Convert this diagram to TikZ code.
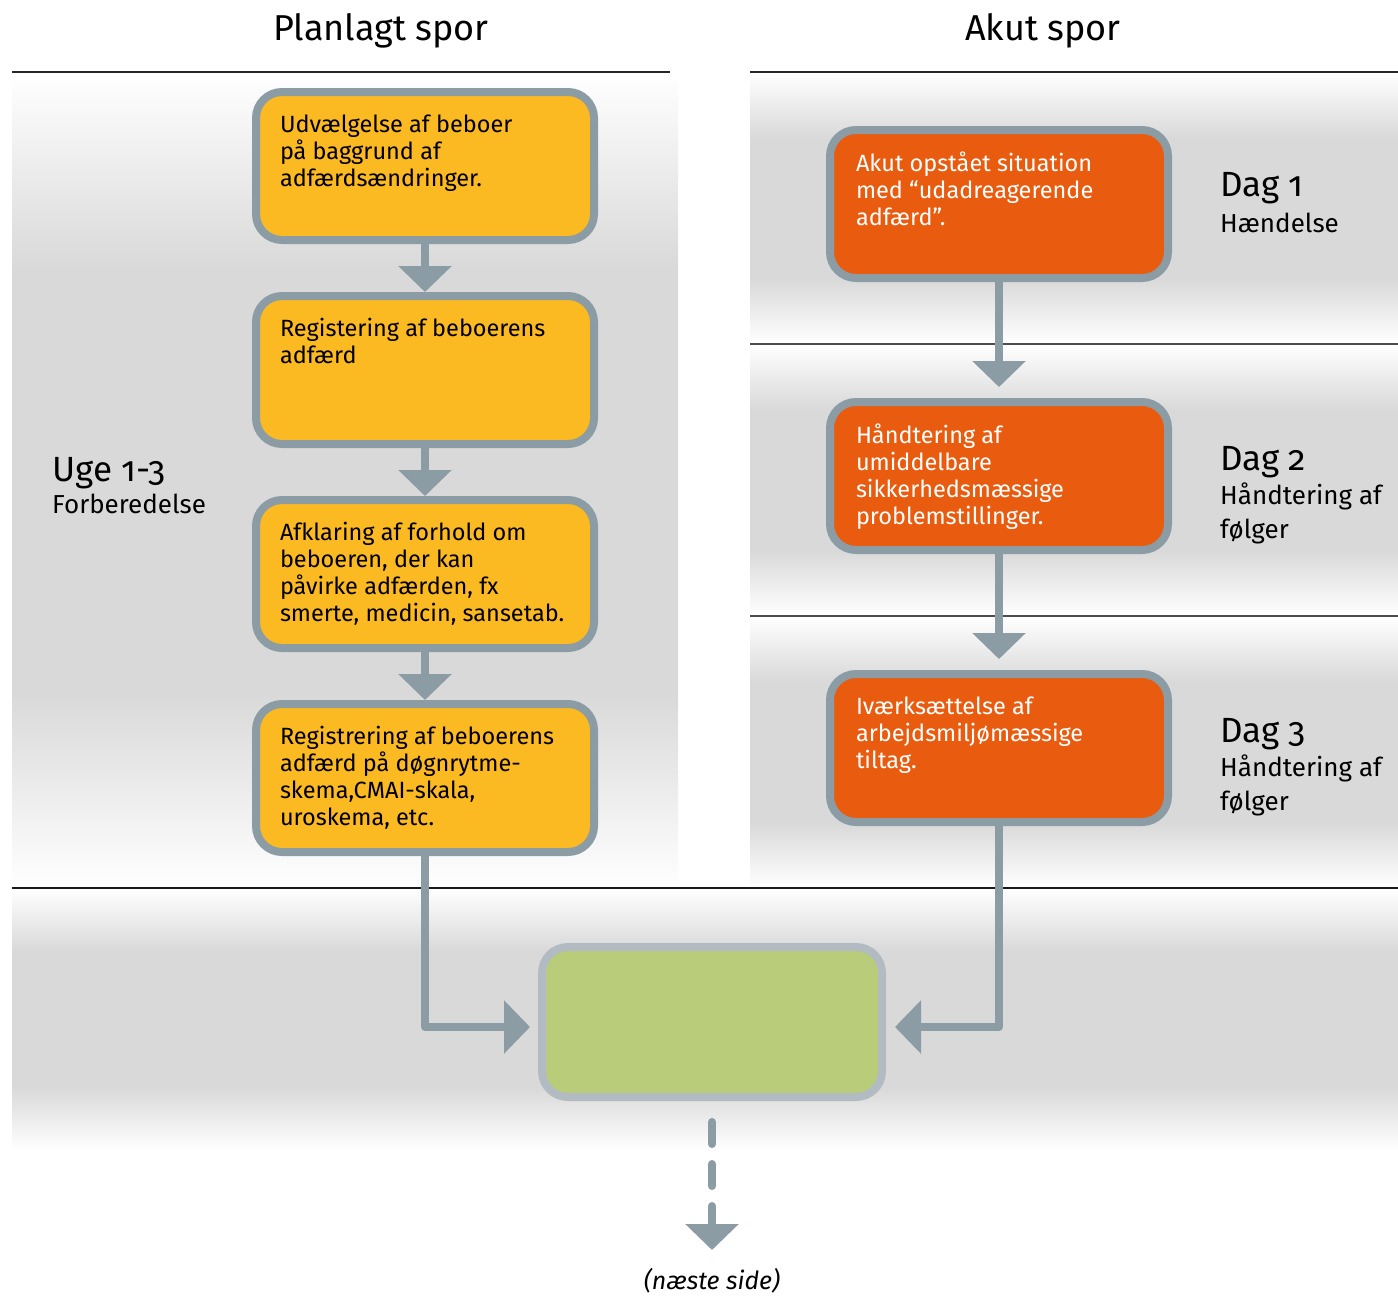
\documentclass[tikz,border=0pt]{standalone}
\usepackage{fontspec}
\setmainfont{Fira Sans}[Numbers=OldStyle]
\usetikzlibrary{arrows.meta}

\definecolor{boxyellow}{HTML}{FBB922}
\definecolor{boxorange}{HTML}{E95C0F}
\definecolor{boxgreen}{HTML}{B8CC7A}
\definecolor{edgegray}{HTML}{8C9CA4}
\definecolor{greenedge}{HTML}{B2BBC2}
\definecolor{bandgray}{HTML}{D9D9D9}

% soft band: white at the edges, grey in the middle (visible part is 25bp..75bp)
\pgfdeclareverticalshading{bandshade}{100bp}{color(0bp)=(white); color(25bp)=(white); color(37bp)=(bandgray); color(63bp)=(bandgray); color(75bp)=(white); color(100bp)=(white)}

% top-aligned text block of fixed size inside a flow box
\newcommand{\boxtext}[2][290pt]{\parbox[c][104pt][t]{#1}{\raggedright\rule{0pt}{18pt}#2}}

\tikzset{
  flowbox/.style={draw=edgegray, line width=8pt, rounded corners=26pt,
    minimum width=338pt, minimum height=148pt, inner xsep=24pt, inner ysep=22pt,
    anchor=north west, font=\fontsize{23.5}{27}\selectfont},
  planbox/.style={flowbox, fill=boxyellow, text=black},
  akutbox/.style={flowbox, fill=boxorange, text=white, inner xsep=26pt},
  flow/.style={draw=edgegray, line width=8pt, line join=round,
    -{Triangle[width=52pt,length=26pt]}},
  rule/.style={line width=1.6pt},
  title/.style={anchor=base, inner sep=0pt, font=\fontsize{36}{36}\selectfont},
  phase/.style={anchor=base west, inner sep=0pt, font=\fontsize{35}{35}\selectfont},
  phasesub/.style={anchor=base west, inner sep=0pt, font=\fontsize{26}{26}\selectfont},
}

\begin{document}
\begin{tikzpicture}[x=1pt, y=-1pt]
\useasboundingbox (0,0) rectangle (1398,1296);

% background bands
\shade[shading=bandshade] (12,73) rectangle (678,888);
\shade[shading=bandshade] (750,73) rectangle (1398,344);
\shade[shading=bandshade] (750,344) rectangle (1398,616);
\shade[shading=bandshade] (750,616) rectangle (1398,888);
\shade[shading=bandshade] (12,888) rectangle (1398,1150);

% separator rules
\draw[rule, black!85] (12,72) -- (670,72);
\draw[rule, black!85] (750,72) -- (1398,72);
\draw[rule, black!70] (750,344) -- (1398,344);
\draw[rule, black!70] (750,616) -- (1398,616);
\draw[rule, black!90] (12,888) -- (1398,888);

% column titles
\node[title] (tplan) at (381,40) {Planlagt spor};
\node[title] (takut) at (1043,40) {Akut spor};

% phase labels
\node[phase] (uge) at (52,481) {Uge 1-3};
\node[phasesub] (ugesub) at (52,513) {Forberedelse};
\node[phase] (dag1) at (1220,196) {Dag 1};
\node[phasesub] (dag1sub) at (1220,232) {Hændelse};
\node[phase] (dag2) at (1220,470) {Dag 2};
\node[phasesub] (dag2a) at (1220,504) {Håndtering af};
\node[phasesub] (dag2b) at (1220,538) {følger};
\node[phase] (dag3) at (1220,742) {Dag 3};
\node[phasesub] (dag3a) at (1220,776) {Håndtering af};
\node[phasesub] (dag3b) at (1220,810) {følger};

% planned track
\node[planbox] (L1) at (252,88) {\boxtext{Udvælgelse af beboer\\på baggrund af\\adfærdsændringer.}};
\node[planbox] (L2) at (252,292) {\boxtext{Registering af beboerens\\adfærd}};
\node[planbox] (L3) at (252,496) {\boxtext{Afklaring af forhold om\\beboeren, der kan\\påvirke adfærden, fx\\smerte, medicin, sansetab.}};
\node[planbox] (L4) at (252,700) {\boxtext{Registrering af beboerens\\adfærd på døgnrytme-\\skema,CMAI-skala,\\uroskema, etc.}};

% acute track
\node[akutbox] (R1) at (826,126) {\boxtext[286pt]{Akut opstået situation\\med “udadreagerende\\adfærd”.}};
\node[akutbox] (R2) at (826,398) {\boxtext[286pt]{Håndtering af\\umiddelbare\\sikkerhedsmæssige\\problemstillinger.}};
\node[akutbox] (R3) at (826,670) {\boxtext[286pt]{Iværksættelse af\\arbejdsmiljømæssige\\tiltag.}};

% joint box
\node[draw=greenedge, fill=boxgreen, line width=8pt, rounded corners=26pt,
      minimum width=340pt, minimum height=150pt, anchor=north west] (G) at (538,943) {};

% connectors
\draw[flow] (L1) -- (L2);
\draw[flow] (L2) -- (L3);
\draw[flow] (L3) -- (L4);
\draw[flow, shorten >=11pt] (R1) -- (R2);
\draw[flow, shorten >=11pt] (R2) -- (R3);
\draw[flow, shorten >=8pt] (L4.south) |- ([yshift=-5pt]G.west);
\draw[flow, shorten >=9pt] (R3.south) |- ([yshift=-5pt]G.east);
\draw[flow, line cap=round, dash pattern=on 22pt off 20pt, shorten <=21pt]
  (G.south) -- ++(0,149) coordinate (next);

\node[anchor=base, font=\itshape\fontsize{25}{25}\selectfont] (nextlbl) at (712,1289) {(næste side)};
\end{tikzpicture}
\end{document}
